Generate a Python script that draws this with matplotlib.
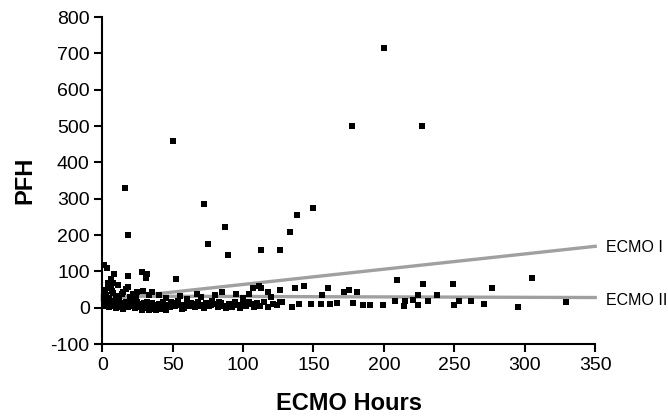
import numpy as np
import matplotlib
matplotlib.use("Agg")
import matplotlib.pyplot as plt

plt.rcParams['font.family'] = ['Liberation Sans', 'DejaVu Sans']
plt.rcParams['axes.unicode_minus'] = False

# low band, near zero
low_hours = [1, 2, 3, 4, 5, 6, 7, 8, 9, 10, 11, 12, 13, 14, 15, 16, 17, 18, 19, 20,
             21, 22, 23, 24, 25, 26, 27, 28, 29, 30, 31, 32, 33, 34, 35, 36, 37, 38, 39, 40,
             41, 42, 43, 44, 46, 48, 50, 52, 54, 56, 58, 60, 62, 64, 66, 68, 70, 72, 74, 76,
             78, 80, 82, 84, 86, 88, 90, 92, 94, 96, 98, 100, 102, 104, 106, 108, 110, 112, 115, 118,
             121, 124, 126, 128, 135, 140, 148, 155, 162, 167, 178, 185, 190, 199, 208, 214, 215, 221, 224, 231,
             250, 253, 262, 271, 295, 329,
             2.5, 5.5, 9.5, 13.5, 18.5, 22.5, 27.5, 31.5, 36.5, 39.5, 42.5, 45, 47, 49, 53, 57, 63, 69, 77, 83]
low_pfh = [15, 8, 20, 12, 3, 18, 10, 5, 14, 0, 9, 17, 6, 12, -3, 8, 15, 2, 11, 19,
           5, 13, -2, 8, 16, 3, 10, -5, 7, 14, 0, 9, -6, 4, 12, -3, 6, -7, 2, 10,
           -4, 5, 15, -2, 8, 1, 12, 4, 18, 7, 0, 14, 5, 10, 2, 16, 8, -1, 12, 4,
           18, 9, 2, 14, 6, -2, 11, 3, 15, 8, 0, 12, 5, 17, 9, 1, 13, 6, 16, 3,
           11, 7, 15, 17, 3, 11, 11, 11, 11, 14, 14, 8, 8, 8, 19, 6, 19, 22, 8, 19,
           8, 19, 19, 11, 3, 17,
           4, 14, 21, 1, 6, 19, 2, 16, -1, 7, 11, -6, 3, 17, 9, -3, 12, 4, 8, 15]

# around the regression lines
mid_hours = [2, 6, 18, 15, 25, 29, 35.5, 3, 5, 8, 10, 12, 20, 22, 40, 45, 55, 60, 67, 85,
             95, 104, 107, 111, 113, 118, 126, 137, 143, 160, 172, 175, 181, 156, 224, 238, 70, 80, 100, 120,
             1, 4, 7, 11, 14, 17, 24, 33]
mid_pfh = [50, 53, 58, 44, 44, 47, 44, 35, 28, 40, 32, 25, 30, 38, 35, 28, 32, 25, 39, 44,
           39, 39, 53, 61, 53, 44, 50, 53, 61, 53, 44, 50, 44, 36, 36, 36, 30, 35, 28, 30,
           42, 57, 46, 62, 38, 52, 29, 34]

# scattered higher values
high_hours = [1, 3.5, 8.5, 6, 18, 28, 32, 31, 4, 8, 52.5, 209, 228, 249, 277, 305,
              200, 177, 227, 50, 16, 18, 72, 87, 133, 138, 150, 75, 89, 113, 126]
high_pfh = [117, 108, 92, 80, 88, 97, 92, 83, 67, 67, 78, 75, 64, 64, 53, 83,
            715, 500, 500, 460, 330, 200, 285, 222, 208, 255, 275, 175, 145, 158, 158]

line_hours = [0, 350]
ecmo1_fit = [22, 169]
ecmo2_fit = [32, 28]

hours = low_hours + mid_hours + high_hours
pfh = low_pfh + mid_pfh + high_pfh

fig = plt.figure(figsize=(6.68, 4.18), dpi=100)
ax = fig.add_axes([0.153, 0.177, 0.738, 0.782])

ax.plot(line_hours, ecmo1_fit, color='#a0a0a0', lw=2.4, zorder=2, clip_on=False)
ax.plot(line_hours, ecmo2_fit, color='#a0a0a0', lw=2.4, zorder=2, clip_on=False)
ax.scatter(hours, pfh, marker='s', s=13, color='black', linewidths=0, zorder=3, clip_on=False)

ax.text(line_hours[-1] + 8, ecmo1_fit[-1] - 2, 'ECMO I', fontsize=11.5, va='center', ha='left')
ax.text(line_hours[-1] + 8, ecmo2_fit[-1] - 9, 'ECMO II', fontsize=11.5, va='center', ha='left')

ax.set_xlim(0, 350)
ax.set_ylim(-100, 800)
ax.set_xticks(np.arange(0, 351, 50))
ax.set_yticks(np.arange(-100, 801, 100))
ax.spines['top'].set_visible(False)
ax.spines['right'].set_visible(False)
for s in ['left', 'bottom']:
    ax.spines[s].set_linewidth(1.5)
ax.tick_params(direction='out', length=6, width=1.5, labelsize=14, pad=3)

ax.set_xlabel('ECMO Hours', fontsize=17, fontweight='bold', labelpad=13)
ax.set_ylabel('PFH', fontsize=17, fontweight='bold', labelpad=10)

fig.savefig('out.png', dpi=100)
